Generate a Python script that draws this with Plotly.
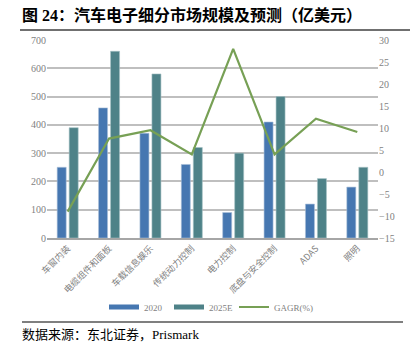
import plotly.graph_objects as go

categories = ["车窗内装", "电缆组件和面板", "车载信息娱乐", "传统动力控制",
              "电力控制", "底盘与安全控制", "ADAS", "照明"]
v2020 = [250, 460, 370, 260, 90, 410, 120, 180]
v2025 = [390, 660, 580, 320, 300, 500, 210, 250]
cagr = [-9.0, 7.6, 9.5, 4.0, 28.0, 4.0, 12.1, 9.1]
left_ticks = [0, 100, 200, 300, 400, 500, 600, 700]
right_ticks = [-15, -10, -5, 0, 5, 10, 15, 20, 25, 30]

W, H = 412, 352
serif = "Liberation Serif, Noto Sans CJK SC"
cjk = "Noto Sans CJK SC"
gray = "#7f7f7f"
c2020 = "#4677b1"
c2025 = "#4e8288"
cline = "#77a055"

fig = go.Figure()
fig.add_trace(go.Bar(x=categories, y=v2020, name="2020", showlegend=False,
                     marker=dict(color=c2020, line=dict(color="#a9bfd9", width=0.6))))
fig.add_trace(go.Bar(x=categories, y=v2025, name="2025E", showlegend=False,
                     marker=dict(color=c2025, line=dict(color="#a5c1c4", width=0.6))))
fig.add_trace(go.Scatter(x=categories, y=cagr, name="GAGR(%)", yaxis="y2", mode="lines",
                         showlegend=False, line=dict(color=cline, width=2.2)))
# legend entries
fig.add_trace(go.Scatter(x=[None], y=[None], name="2020", mode="lines",
                         line=dict(color=c2020, width=5)))
fig.add_trace(go.Scatter(x=[None], y=[None], name="2025E", mode="lines",
                         line=dict(color=c2025, width=5)))
fig.add_trace(go.Scatter(x=[None], y=[None], name="GAGR(%)", mode="lines", yaxis="y2",
                         line=dict(color=cline, width=2)))
fig.add_trace(go.Scatter(x=[None], y=[None], name=" ", mode="lines",
                         line=dict(color="rgba(0,0,0,0)", width=0)))

fig.update_layout(
    width=W, height=H,
    margin=dict(l=47, r=34, t=40, b=114, autoexpand=False),
    paper_bgcolor="white", plot_bgcolor="white",
    bargap=0.42, bargroupgap=0.25,
    font=dict(family=serif, size=9, color=gray),
    xaxis=dict(tickangle=-45, showgrid=False, showline=True, linecolor="#a6a6a6",
               linewidth=1.5, ticks="", automargin=False,
               tickfont=dict(family=cjk, size=9, color=gray)),
    yaxis=dict(range=[0, 700], tickvals=left_ticks, showgrid=True, gridcolor="#bfbfbf",
               gridwidth=1.5, zeroline=False, ticks="", showline=False, automargin=False,
               tickfont=dict(family=serif, size=10, color=gray)),
    yaxis2=dict(range=[-15, 30], tickvals=right_ticks, overlaying="y", side="right",
                showgrid=False, zeroline=False, ticks="", showline=False, automargin=False,
                tickfont=dict(family=serif, size=10, color=gray)),
    legend=dict(orientation="h", xref="container", yref="container", x=104 / 412,
                y=(352 - 307) / 352, xanchor="left", yanchor="middle",
                font=dict(family=serif, size=9, color=gray),
                entrywidth=20, entrywidthmode="pixels",
                tracegroupgap=0, bgcolor="rgba(0,0,0,0)"),
    showlegend=True,
)

def px_x(x):
    return (x - 47) / 331

def px_y(y):
    return (238 - y) / 198

fig.add_annotation(xref="paper", yref="paper", x=px_x(20), y=px_y(15),
                   xanchor="left", yanchor="middle", showarrow=False,
                   text="<b>图 24：汽车电子细分市场规模及预测（亿美元）</b>",
                   font=dict(family="Liberation Serif, Noto Sans CJK SC", size=16, color="#000000"))
fig.add_annotation(xref="paper", yref="paper", x=px_x(20), y=px_y(334),
                   xanchor="left", yanchor="middle", showarrow=False,
                   text="数据来源：东北证券，Prismark",
                   font=dict(family="Liberation Serif, Noto Sans CJK SC", size=13, color="#000000"))

fig.add_shape(type="line", xref="paper", yref="paper", x0=px_x(20), x1=px_x(410),
              y0=px_y(30), y1=px_y(30), line=dict(color="#404040", width=1.5))
fig.add_shape(type="line", xref="paper", yref="paper", x0=px_x(22), x1=px_x(403),
              y0=px_y(322), y1=px_y(322), line=dict(color="#000000", width=1.2))

fig.write_html("out.html")
